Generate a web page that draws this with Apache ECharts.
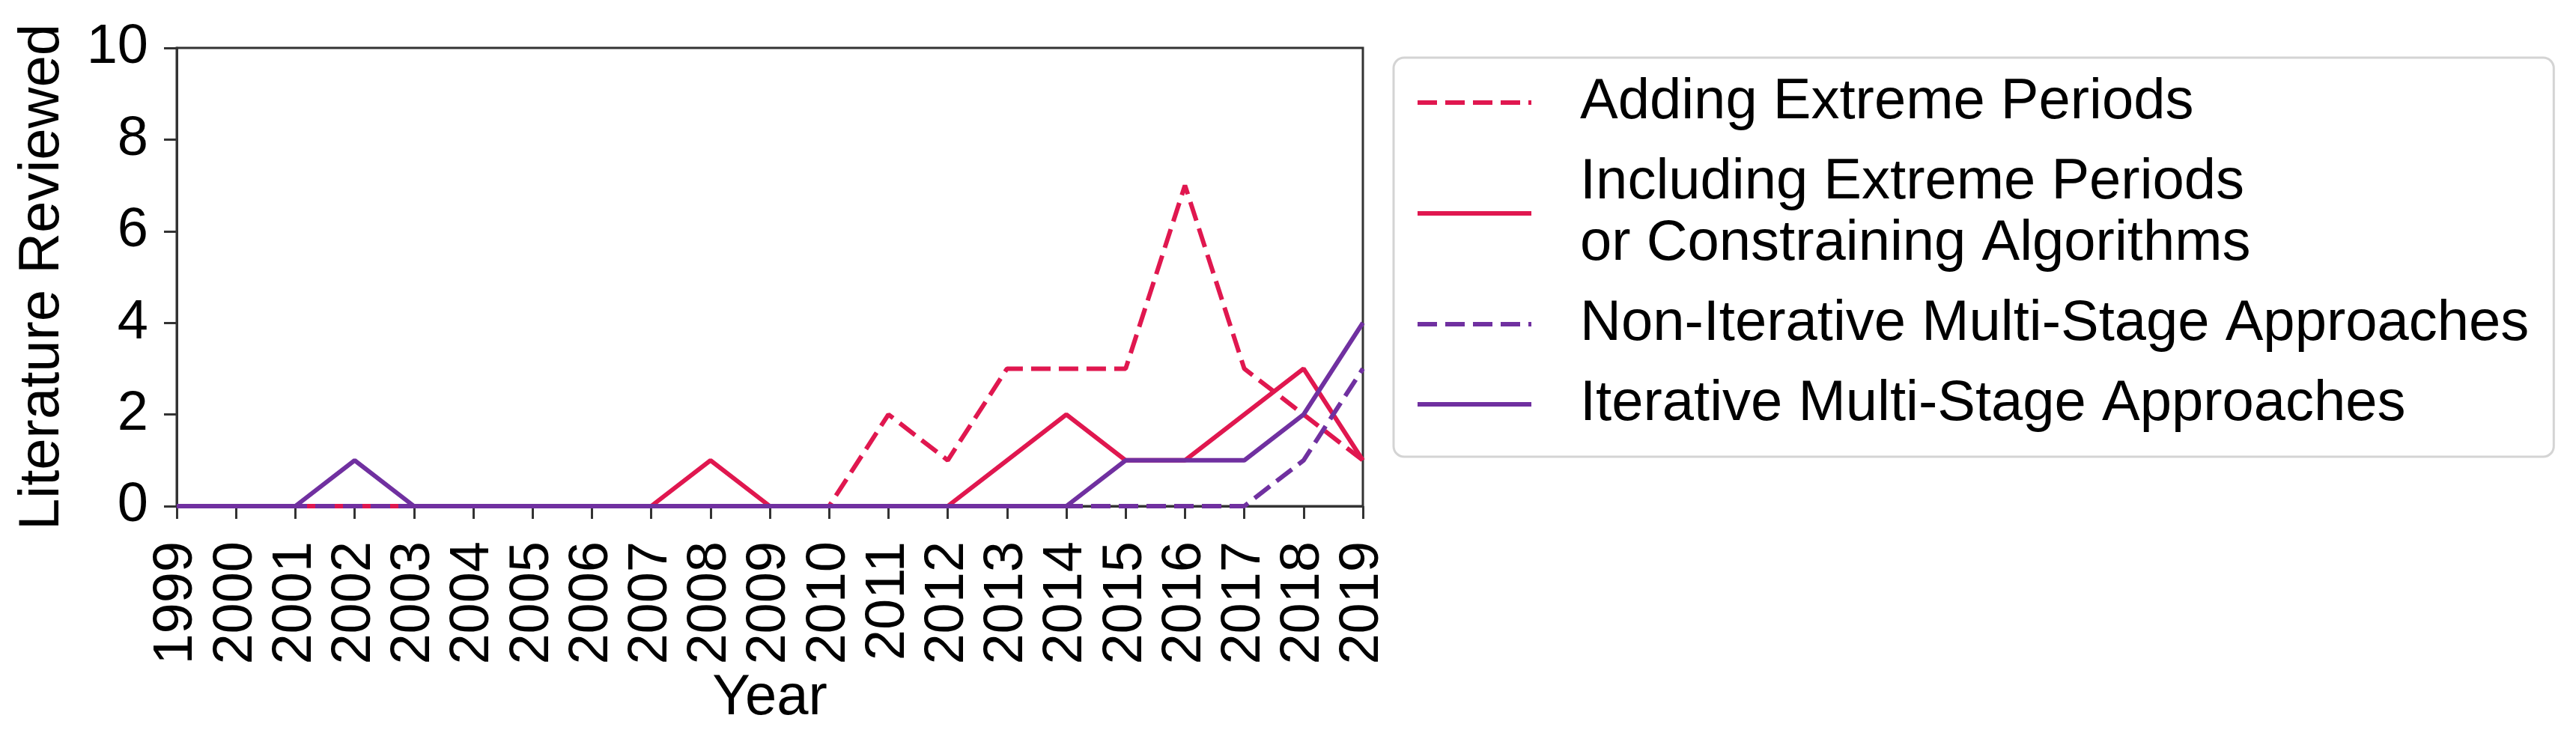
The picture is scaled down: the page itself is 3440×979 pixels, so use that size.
<!DOCTYPE html>
<html>
<head>
<meta charset="utf-8">
<script src="https://cdn.jsdelivr.net/npm/echarts@6/dist/echarts.min.js"></script>
<style>
html,body{margin:0;padding:0;background:#fff;}
#chart{width:3440px;height:979px;}
</style>
</head>
<body>
<div id="chart"></div>
<script>
const years = ['1999','2000','2001','2002','2003','2004','2005','2006','2007','2008','2009','2010','2011','2012','2013','2014','2015','2016','2017','2018','2019'];
const seriesNames = ['Adding Extreme Periods', 'Including Extreme Periods\nor Constraining Algorithms', 'Non-Iterative Multi-Stage Approaches', 'Iterative Multi-Stage Approaches'];
const addingExtreme   = [0,0,0,0,0,0,0,0,0,0,0,0,2,1,3,3,3,7,3,2,1];
const includingExtreme= [0,0,0,0,0,0,0,0,0,1,0,0,0,0,1,2,1,1,2,3,1];
const nonIterative    = [0,0,0,0,0,0,0,0,0,0,0,0,0,0,0,0,0,0,0,1,3];
const iterative       = [0,0,0,1,0,0,0,0,0,0,0,0,0,0,0,0,1,1,1,2,4];
const yTicks = [0,2,4,6,8,10];

const RED = '#e0174f';
const PURPLE = '#7030a0';
const DASH = [26, 11];
const FONT = 'Liberation Sans, Arial, sans-serif';
const LW = 6;

const chart = echarts.init(document.getElementById('chart'), null, {renderer: 'canvas'});
function mk(name, data, color, dashed) {
  return {
    name: name, type: 'line', data: data, symbol: 'none', smooth: false,
    lineStyle: {color: color, width: LW, type: dashed ? DASH : 'solid'},
    itemStyle: {color: color},
    emphasis: {disabled: true}, animation: false
  };
}
const legendData = seriesNames.map(function (n, i) {
  const colors = [RED, RED, PURPLE, PURPLE];
  const dashed = [true, false, true, false];
  return {
    name: n,
    itemStyle: {opacity: 0, borderWidth: 0},
    lineStyle: {color: colors[i], width: LW, type: dashed[i] ? DASH : 'solid', opacity: 1}
  };
});
chart.setOption({
  backgroundColor: '#fff',
  animation: false,
  grid: {left: 236, right: 1620, top: 64, bottom: 303, show: true, borderColor: '#333', borderWidth: 3, backgroundColor: 'transparent'},
  legend: {
    orient: 'vertical', left: 1861, top: 77,
    padding: [19, 33, 29, 29],
    itemGap: 25, itemWidth: 152, itemHeight: 20,
    borderColor: '#d4d4d4', borderWidth: 3, borderRadius: 14, backgroundColor: '#fff',
    itemStyle: {opacity: 0, borderWidth: 0},
    lineStyle: {width: LW},
    textStyle: {fontFamily: FONT, fontSize: 76, color: '#000', lineHeight: 82, padding: [0, 0, 0, 60]},
    data: legendData
  },
  xAxis: {
    type: 'category', data: years, boundaryGap: false,
    name: 'Year', nameLocation: 'middle', nameGap: 211,
    nameTextStyle: {fontFamily: FONT, fontSize: 76, color: '#000'},
    axisLine: {lineStyle: {color: '#333', width: 3}},
    axisTick: {show: true, length: 17, inside: false, alignWithLabel: true, interval: 0, lineStyle: {color: '#333', width: 3}},
    axisLabel: {rotate: 90, interval: 0, margin: 47, fontFamily: FONT, fontSize: 74, color: '#000'},
    splitLine: {show: false}
  },
  yAxis: {
    type: 'value', min: 0, max: 10, interval: 2,
    name: 'Literature Reviewed', nameLocation: 'middle', nameGap: 141,
    nameTextStyle: {fontFamily: FONT, fontSize: 76, color: '#000'},
    axisLine: {show: true, lineStyle: {color: '#333', width: 3}},
    axisTick: {show: true, length: 17, lineStyle: {color: '#333', width: 3}},
    axisLabel: {margin: 38, fontFamily: FONT, fontSize: 74, color: '#000',
      formatter: function (v) { return yTicks.indexOf(v) >= 0 ? String(v) : ''; }},
    splitLine: {show: false}
  },
  series: [
    mk(seriesNames[0], addingExtreme, RED, true),
    mk(seriesNames[1], includingExtreme, RED, false),
    mk(seriesNames[2], nonIterative, PURPLE, true),
    mk(seriesNames[3], iterative, PURPLE, false)
  ]
});
</script>
</body>
</html>
